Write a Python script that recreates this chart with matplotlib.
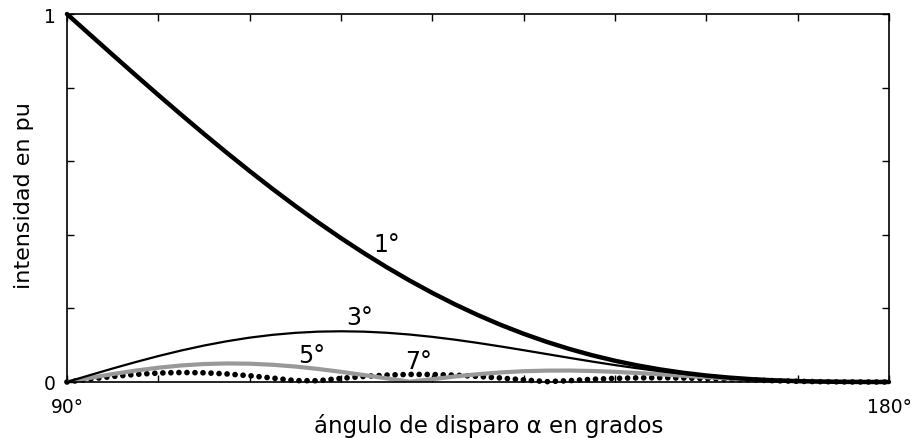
import matplotlib
matplotlib.use("Agg")
import matplotlib.pyplot as plt

# firing angle in degrees (90 .. 180, every 2.5)
alpha = [90, 92.5, 95, 97.5, 100, 102.5, 105, 107.5, 110, 112.5, 115, 117.5,
         120, 122.5, 125, 127.5, 130, 132.5, 135, 137.5, 140, 142.5, 145,
         147.5, 150, 152.5, 155, 157.5, 160, 162.5, 165, 167.5, 170, 172.5,
         175, 177.5, 180]

# harmonic intensity in pu
h1 = [1.0, 0.9445, 0.8892, 0.8343, 0.7800, 0.7266, 0.6742, 0.6230, 0.5732,
      0.5249, 0.4784, 0.4337, 0.3910, 0.3504, 0.3120, 0.2759, 0.2421, 0.2107,
      0.1817, 0.1551, 0.1310, 0.1092, 0.0898, 0.0726, 0.0577, 0.0448, 0.0339,
      0.0249, 0.0176, 0.0119, 0.0075, 0.0044, 0.0023, 0.0010, 0.0003, 0.0, 0.0]
h3 = [0.0, 0.0185, 0.0366, 0.0540, 0.0704, 0.0855, 0.0990, 0.1107, 0.1205,
      0.1281, 0.1335, 0.1368, 0.1378, 0.1368, 0.1338, 0.1290, 0.1226, 0.1149,
      0.1061, 0.0965, 0.0864, 0.0760, 0.0656, 0.0555, 0.0459, 0.0371, 0.0290,
      0.0220, 0.0160, 0.0110, 0.0071, 0.0042, 0.0022, 0.0009, 0.0003, 0.0, 0.0]
h5 = [0.0, 0.0110, 0.0215, 0.0309, 0.0388, 0.0449, 0.0488, 0.0504, 0.0497,
      0.0468, 0.0420, 0.0354, 0.0276, 0.0189, 0.0099, 0.0009, 0.0075, 0.0150,
      0.0212, 0.0260, 0.0293, 0.0309, 0.0311, 0.0299, 0.0276, 0.0244, 0.0207,
      0.0168, 0.0130, 0.0094, 0.0063, 0.0039, 0.0021, 0.0009, 0.0003, 0.0, 0.0]
h7 = [0.0, 0.0078, 0.0149, 0.0206, 0.0243, 0.0258, 0.0250, 0.0219, 0.0170,
      0.0107, 0.0037, 0.0034, 0.0098, 0.0151, 0.0188, 0.0206, 0.0204, 0.0185,
      0.0152, 0.0108, 0.0058, 0.0009, 0.0036, 0.0073, 0.0098, 0.0112, 0.0115,
      0.0107, 0.0092, 0.0073, 0.0053, 0.0034, 0.0019, 0.0009, 0.0003, 0.0, 0.0]

# curve labels: text, x, y
labels = [("1°", 125.0, 0.375), ("3°", 122.0, 0.177),
          ("5°", 116.8, 0.073), ("7°", 128.5, 0.057)]

xticks = [90, 100, 110, 120, 130, 140, 150, 160, 170, 180]
xticklabels = ["90°", "", "", "", "", "", "", "", "", "180°"]
yticks = [0, 0.2, 0.4, 0.6, 0.8, 1]
yticklabels = ["0", "", "", "", "", "1"]

plt.rcParams['font.family'] = ['DejaVu Sans']

fig = plt.figure(figsize=(9.16, 4.39), dpi=100)
ax = fig.add_axes([0.0731, 0.1276, 0.8974, 0.8382])

ax.plot(alpha, h7, color='black', lw=4.1, linestyle=(0, (0.01, 1.4)),
        dash_capstyle='round', zorder=1, clip_on=False)
ax.plot(alpha, h5, color='#999999', lw=3.0, zorder=2, solid_capstyle='butt')
ax.plot(alpha, h3, color='black', lw=1.6, zorder=3)
ax.plot(alpha, h1, color='black', lw=3.2, zorder=4,
        solid_capstyle='round', clip_on=False)

for txt, x, y in labels:
    ax.text(x, y, txt, fontsize=17, ha='center', va='center')

ax.set_xlim(90, 180)
ax.set_ylim(0, 1)
ax.set_xticks(xticks)
ax.set_xticklabels(xticklabels)
ax.set_yticks(yticks)
ax.set_yticklabels(yticklabels)
ax.tick_params(direction='in', length=5, width=1, top=True, right=True,
               labelsize=13.5)
ax.tick_params(axis='x', pad=11)
ax.tick_params(axis='y', pad=8)
for s in ax.spines.values():
    s.set_linewidth(1.2)

ax.set_xlabel("ángulo de disparo α en grados", fontsize=16.5, labelpad=0)
ax.xaxis.set_label_coords(0.5135, -0.085)
ax.set_ylabel("intensidad en pu", fontsize=16)
ax.yaxis.set_label_coords(-0.04, 0.51)

fig.savefig("out.png", dpi=100)
